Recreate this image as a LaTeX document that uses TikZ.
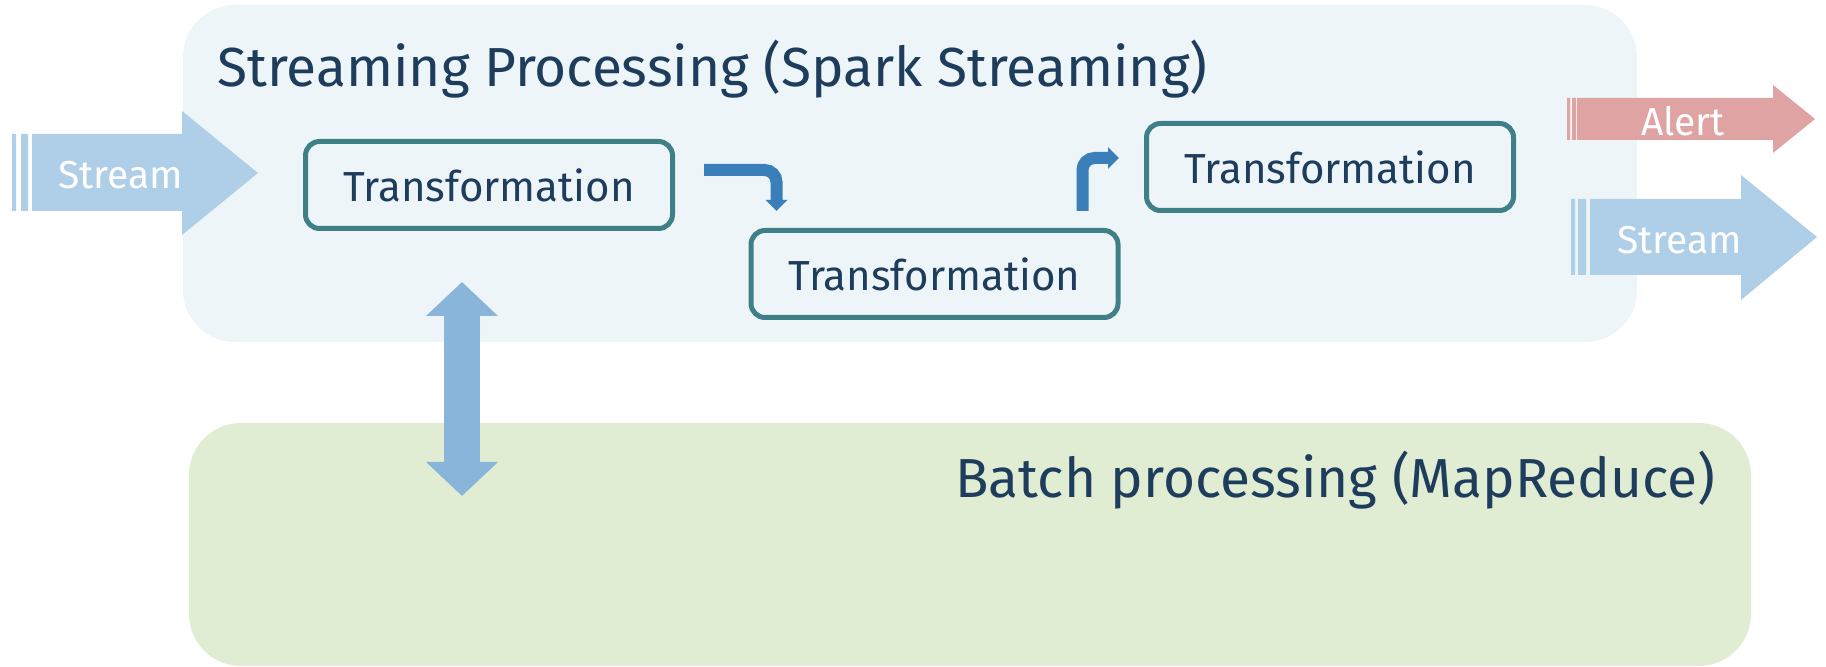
\documentclass[tikz,border=0pt]{standalone}
\usepackage{fontspec}
\setmainfont{Fira Sans}
\usetikzlibrary{arrows.meta,calc}
\definecolor{navy}{HTML}{1E3D5C}
\definecolor{teal}{HTML}{3F7F87}
\definecolor{streambg}{HTML}{EDF5F8}
\definecolor{batchbg}{HTML}{E0EDD3}
\definecolor{streamfill}{HTML}{AECFE7}
\definecolor{alertfill}{HTML}{E0A3A3}
\definecolor{bendblue}{HTML}{3B7FBA}
\definecolor{dblblue}{HTML}{88B5D9}
\tikzset{
  transf/.style={draw=teal, line width=2.5pt, rounded corners=7pt, fill=streambg,
    minimum width=183.5pt, minimum height=43.5pt, text=navy,
    font=\fontsize{21}{24}\selectfont},
  bendarrow/.style={draw=bendblue, line width=6pt, rounded corners=6pt,
    -{Triangle[length=5.5pt,width=10.5pt]}},
  fatlabel/.style={text=white, font=\fontsize{19.5}{22}\selectfont},
  title/.style={text=navy, inner sep=0pt, font=\fontsize{27.5}{32}\selectfont}
}
\begin{document}
\begin{tikzpicture}[x=0.5pt, y=-0.5pt, line join=miter]
	\useasboundingbox (0,0) rectangle (1826,667);
	% panels
	\fill[streambg, rounded corners=26pt] (183,5) rectangle (1637,342);
	\fill[batchbg, rounded corners=26pt] (189,423) rectangle (1751,666);
	\node[title, anchor=base west] (streamtitle) at (217,87) {Streaming Processing (Spark Streaming)};
	\node[title, anchor=base east] (batchtitle) at (1716,498) {Batch processing (MapReduce)};
	% incoming stream
	\fill[streamfill] (12,134) rectangle (16,211) (21,134) rectangle (28,211)
		(32,134)--(182,134)--(182,111)--(258,173)--(182,235)--(182,211)--(32,211)--cycle;
	\node[fatlabel] (instream) at (121,175) {Stream};
	% transformations
	\node[transf] (t1) at (489,185) {Transformation};
	\node[transf] (t2) at (934.5,274) {Transformation};
	\node[transf] (t3) at (1330,167) {Transformation};
	\coordinate (a1s) at ($(t1.east)+(29,-15)$);
	\coordinate (a1e) at ($(t2.north west)+(28,-17)$);
	\coordinate (a2s) at ($(t2.north east)+(-38,-17)$);
	\coordinate (a2e) at ($(t3.west)+(-25,-9)$);
	\draw[bendarrow] (a1s) -| (a1e);
	\draw[bendarrow] (a2s) |- (a2e);
	% outputs
	\fill[alertfill] (1567,98) rectangle (1570,140) (1572,98) rectangle (1576,140)
		(1577,98)--(1773,98)--(1773,85)--(1815,119)--(1773,153)--(1773,140)--(1577,140)--cycle;
	\node[fatlabel] (alert) at (1683,121) {Alert};
	\fill[streamfill] (1571,199) rectangle (1575,275) (1578,199) rectangle (1586,275)
		(1590,199)--(1741,199)--(1741,175)--(1817,237)--(1741,300)--(1741,275)--(1590,275)--cycle;
	\node[fatlabel] (outstream) at (1680,240) {Stream};
	% link to batch
	\coordinate (dbltop) at (462,282);
	\coordinate (dblbot) at (462,496);
	\draw[dblblue, line width=18pt, {Triangle[length=17pt,width=35pt]}-{Triangle[length=17pt,width=35pt]}] (dbltop) -- (dblbot);
\end{tikzpicture}
\end{document}
